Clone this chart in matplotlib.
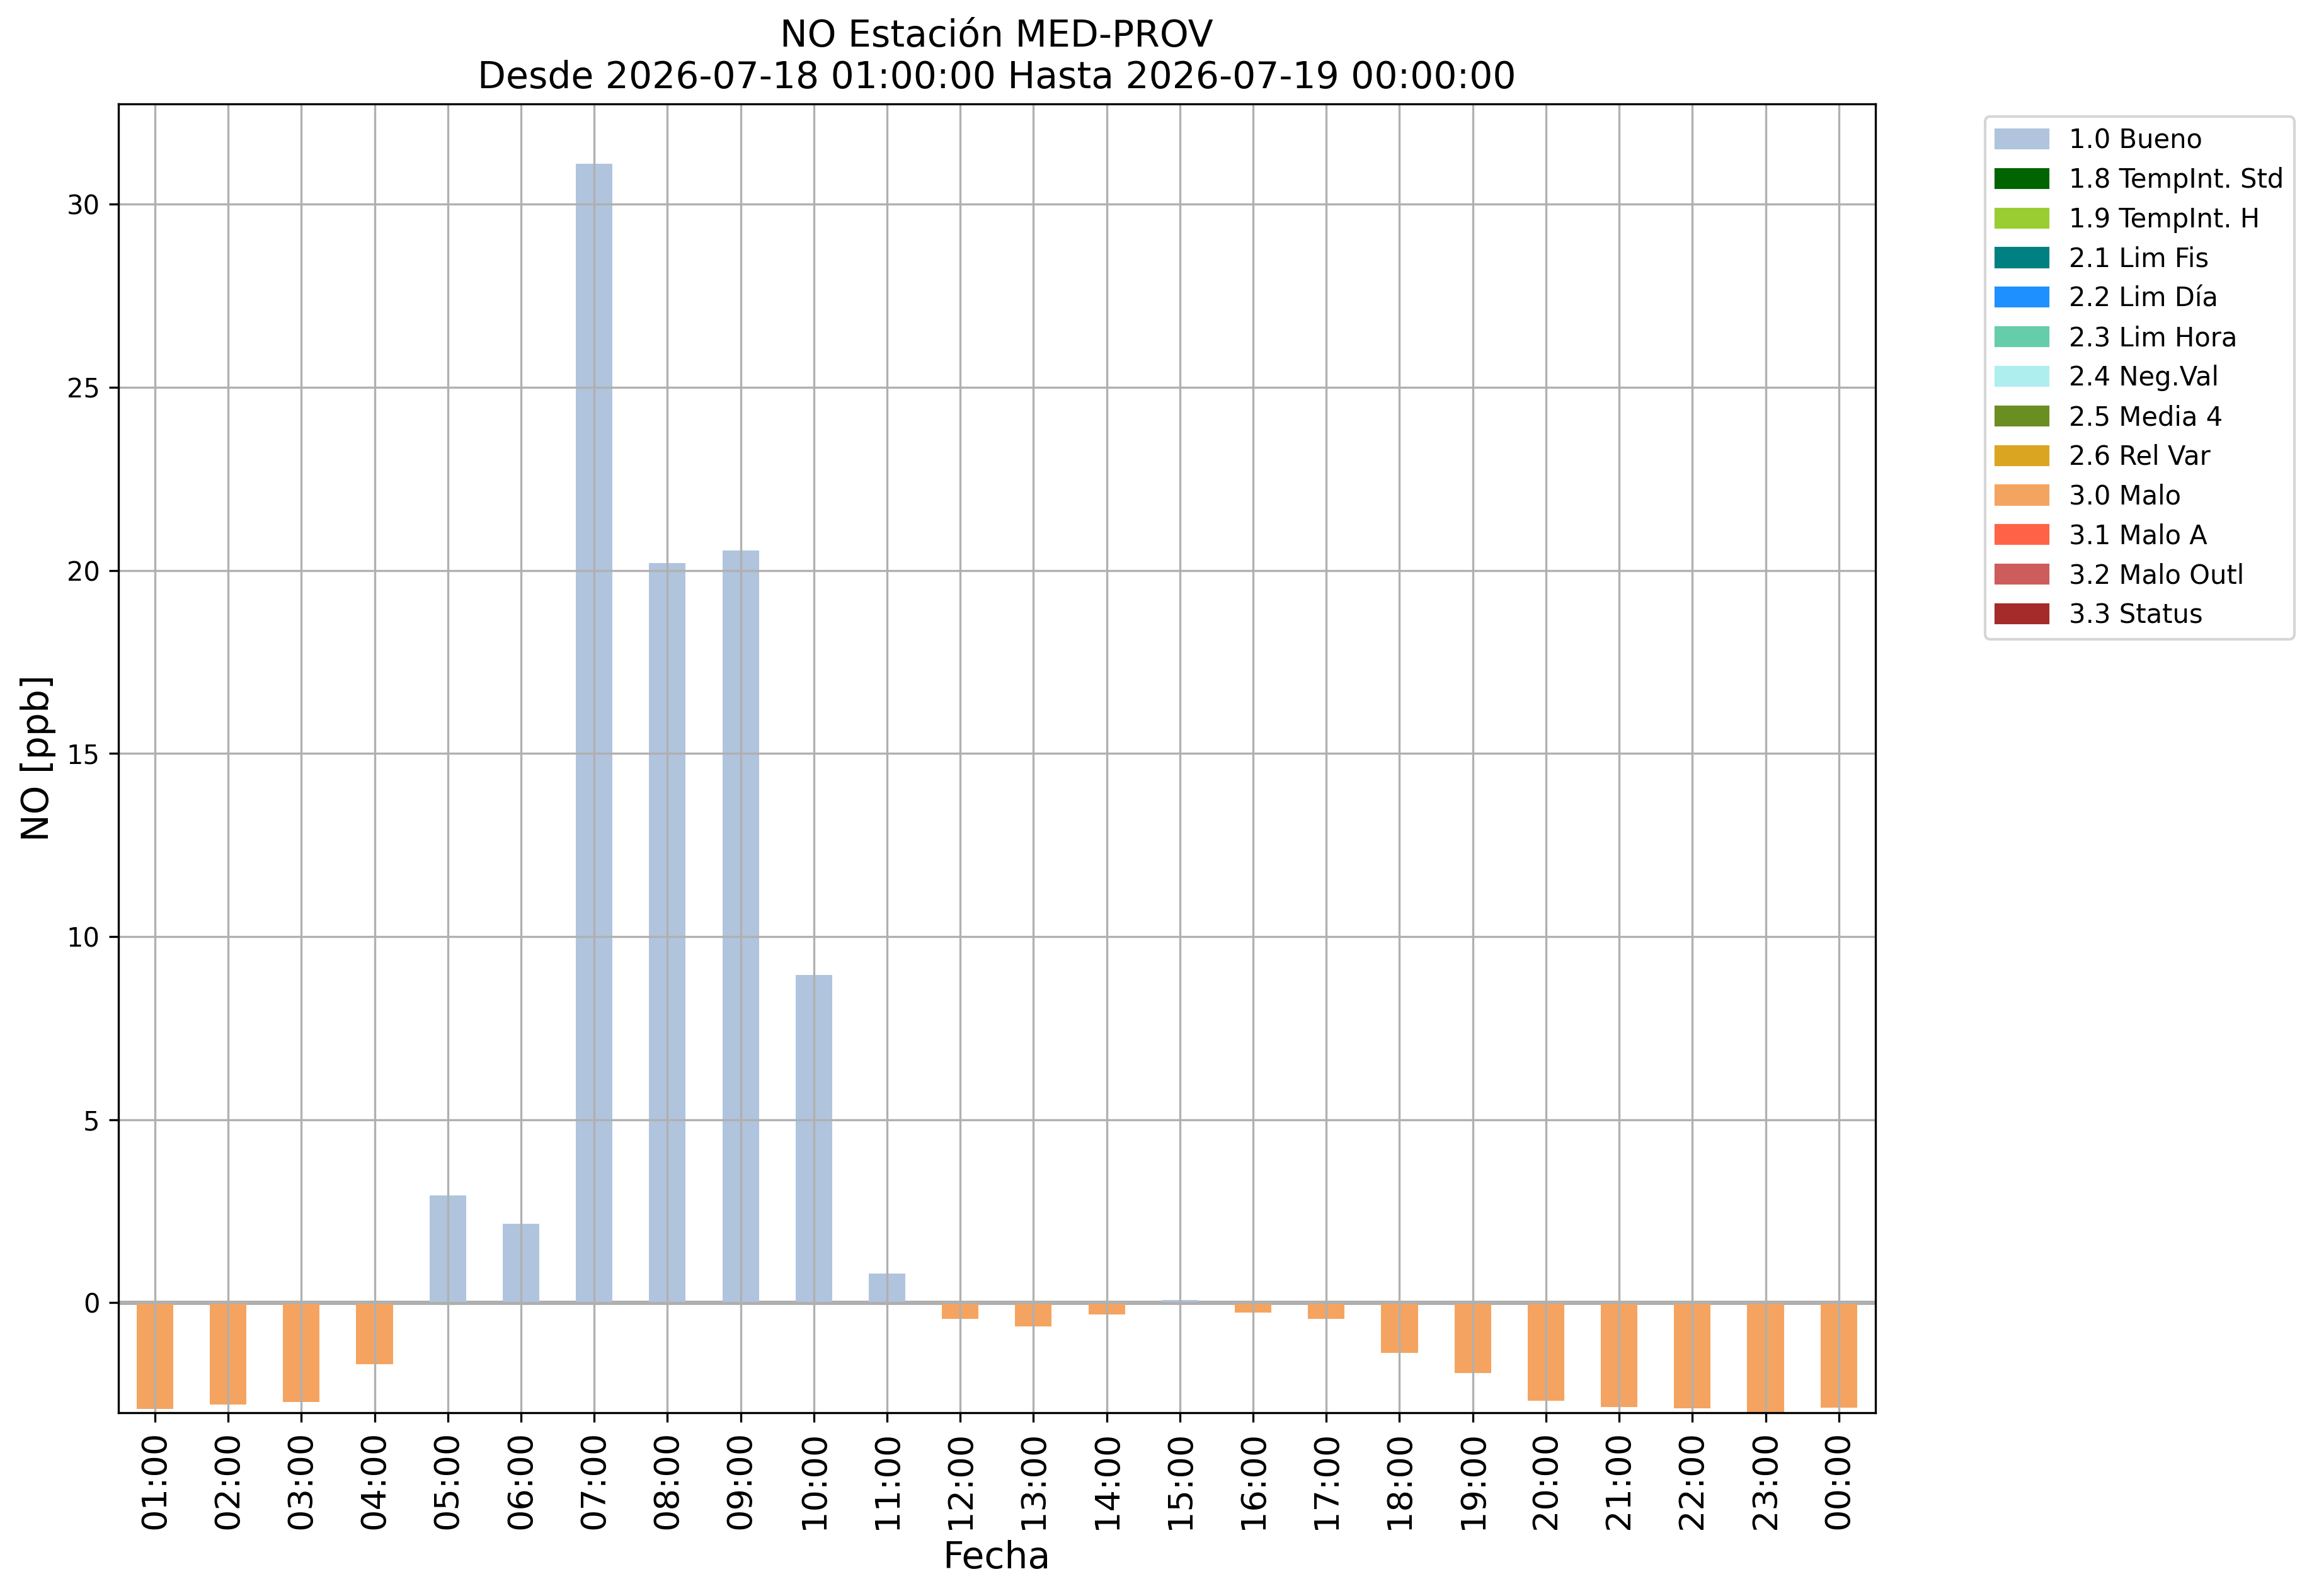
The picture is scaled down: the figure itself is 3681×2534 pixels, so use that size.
import matplotlib
matplotlib.use("Agg")
import matplotlib.pyplot as plt
from matplotlib.patches import Patch

hours = ['01:00', '02:00', '03:00', '04:00', '05:00', '06:00', '07:00',
         '08:00', '09:00', '10:00', '11:00', '12:00', '13:00', '14:00',
         '15:00', '16:00', '17:00', '18:00', '19:00', '20:00', '21:00',
         '22:00', '23:00', '00:00']
no_ppb = [-2.91, -2.78, -2.72, -1.68, 2.92, 2.15, 31.1, 20.2, 20.55, 8.95,
          0.8, -0.45, -0.65, -0.33, 0.08, -0.28, -0.45, -1.38, -1.93,
          -2.68, -2.86, -2.88, -3.0, -2.87]
flags = ['3.0 Malo'] * 4 + ['1.0 Bueno'] * 7 + ['3.0 Malo'] * 3 + \
    ['1.0 Bueno'] + ['3.0 Malo'] * 9

flag_names = ['1.0 Bueno', '1.8 TempInt. Std', '1.9 TempInt. H',
              '2.1 Lim Fis', '2.2 Lim Día', '2.3 Lim Hora', '2.4 Neg.Val',
              '2.5 Media 4', '2.6 Rel Var', '3.0 Malo', '3.1 Malo A',
              '3.2 Malo Outl', '3.3 Status']
flag_colors = ['lightsteelblue', 'darkgreen', 'yellowgreen', 'teal',
               'dodgerblue', 'mediumaquamarine', 'paleturquoise',
               'olivedrab', 'goldenrod', 'sandybrown', 'tomato',
               'indianred', 'brown']


def main():
    color_of = dict(zip(flag_names, flag_colors))
    fig, ax = plt.subplots(figsize=(12.273, 8.447), dpi=300)
    fig.subplots_adjust(left=0.051, right=0.8085, top=0.935, bottom=0.115)

    x = list(range(len(hours)))
    ax.axhline(0, color='darkgray', lw=1.6, zorder=0.5)
    ax.bar(x, no_ppb, width=0.5, color=[color_of[f] for f in flags])
    ax.set_xlim(-0.5, len(hours) - 0.5)
    ax.set_ylim(min(no_ppb), max(no_ppb) * 1.053)
    ax.set_xticks(x)
    ax.set_xticklabels(hours, rotation=90, fontsize=13)
    ax.tick_params(axis='y', labelsize=10)
    ax.grid(True)

    ax.set_title('NO Estación MED-PROV\n'
                 'Desde 2026-07-18 01:00:00 Hasta 2026-07-19 00:00:00',
                 fontsize=14)
    ax.set_xlabel('Fecha', fontsize=14)
    ax.set_ylabel('NO [ppb]', fontsize=14)

    handles = [Patch(color=c, label=n) for n, c in zip(flag_names,
                                                       flag_colors)]
    ax.legend(handles=handles, bbox_to_anchor=(1.055, 1.0), loc='upper left',
              fontsize=10)

    fig.savefig('out.png', dpi=300)


if __name__ == "__main__":
    main()
